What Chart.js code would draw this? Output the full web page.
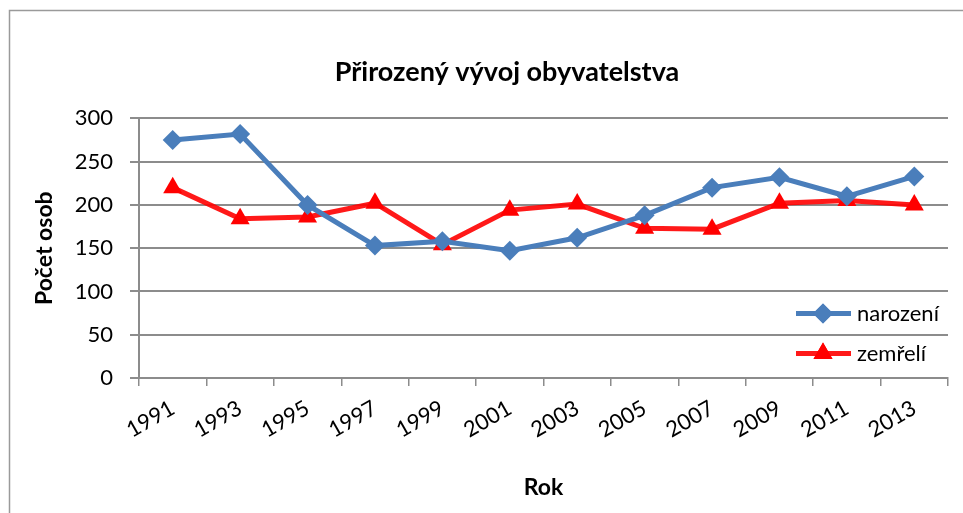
<!DOCTYPE html>
<html>
<head>
<meta charset="utf-8">
<script src="https://cdn.jsdelivr.net/npm/chart.js@4/dist/chart.umd.min.js"></script>
<style>
  html, body { margin: 0; padding: 0; background: #fff; }
  #wrap { width: 963px; height: 513px; }
</style>
</head>
<body>
<div id="wrap"><canvas id="popChart" width="963" height="513"></canvas></div>
<script>
const years = ['1991', '1993', '1995', '1997', '1999', '2001', '2003', '2005', '2007', '2009', '2011', '2013'];
const narozeni = [275, 282, 200, 153, 158, 147, 162, 188, 220, 232, 210, 233];
const zemreli = [220, 184, 186, 202, 154, 194, 201, 173, 172, 202, 205, 200];
const yTicks = [0, 50, 100, 150, 200, 250, 300];

const gridColor = '#8c8c8c';
const baseFont = 'Lato, "DejaVu Sans", sans-serif';

// outer frame of the chart object
const framePlugin = {
  id: 'frame',
  beforeDraw(chart) {
    const ctx = chart.ctx;
    ctx.save();
    ctx.fillStyle = '#fff';
    ctx.fillRect(0, 0, chart.width, chart.height);
    ctx.strokeStyle = '#9a9a9a';
    ctx.lineWidth = 1.5;
    ctx.strokeRect(9.5, 10.5, chart.width + 20, chart.height + 20);
    ctx.restore();
  }
};

// legend sits inside the plot area, lower right
const insideLegend = {
  id: 'insideLegend',
  afterDatasetsDraw(chart) {
    const ctx = chart.ctx;
    const area = chart.chartArea;
    const x0 = area.right - 152;
    ctx.save();
    chart.data.datasets.forEach((ds, i) => {
      const y = area.top + 195 + i * 40;
      ctx.strokeStyle = ds.borderColor;
      ctx.lineWidth = ds.borderWidth;
      ctx.beginPath();
      ctx.moveTo(x0, y);
      ctx.lineTo(x0 + 55, y);
      ctx.stroke();
      ctx.fillStyle = ds.backgroundColor;
      Chart.helpers.drawPoint(ctx, {
        pointStyle: ds.pointStyle,
        radius: ds.pointRadius,
        rotation: 0,
        borderWidth: 0
      }, x0 + 27, y);
      ctx.fill();
      ctx.fillStyle = '#000';
      ctx.font = '22px ' + baseFont;
      ctx.textBaseline = 'middle';
      ctx.textAlign = 'left';
      ctx.fillText(ds.label, x0 + 61, y + 1);
    });
    ctx.restore();
  }
};

new Chart(document.getElementById('popChart'), {
  type: 'line',
  data: {
    labels: years,
    datasets: [{
      label: 'narození',
      data: narozeni,
      borderColor: '#4a7ebb',
      backgroundColor: '#4a7ebb',
      borderWidth: 5,
      pointStyle: 'rectRot',
      pointRadius: 10,
      pointHoverRadius: 10,
      pointBorderWidth: 0,
      tension: 0
    }, {
      label: 'zemřelí',
      data: zemreli,
      borderColor: 'rgba(255,0,0,0.9)',
      backgroundColor: '#ff0000',
      borderWidth: 5,
      pointStyle: 'triangle',
      pointRadius: 11,
      pointHoverRadius: 11,
      pointBorderWidth: 0,
      tension: 0
    }]
  },
  options: {
    responsive: false,
    animation: false,
    layout: {
      padding: { left: 66, right: 15, top: 0, bottom: 0 }
    },
    plugins: {
      legend: { display: false },
      tooltip: { enabled: false },
      title: {
        display: true,
        text: 'Přirozený vývoj obyvatelstva',
        color: '#000',
        font: { family: baseFont, size: 27, weight: 'bold' },
        padding: { top: 56, bottom: 30 }
      }
    },
    scales: {
      x: {
        offset: true,
        grid: {
          offset: true,
          drawOnChartArea: false,
          drawTicks: true,
          tickLength: 8,
          color: gridColor,
          lineWidth: 1.5
        },
        border: { color: gridColor, width: 2 },
        ticks: {
          color: '#000',
          font: { family: baseFont, size: 22 },
          minRotation: 30,
          maxRotation: 30,
          autoSkip: false,
          padding: 9
        },
        title: {
          display: true,
          text: 'Rok',
          color: '#000',
          font: { family: baseFont, size: 23, weight: 'bold' },
          padding: { top: 12, bottom: 12 }
        },
        afterFit(scale) { scale.height = 135; }
      },
      y: {
        min: yTicks[0],
        max: yTicks[yTicks.length - 1],
        afterBuildTicks(scale) { scale.ticks = yTicks.map(v => ({ value: v })); },
        grid: {
          color: gridColor,
          lineWidth: 2,
          tickLength: 9
        },
        border: { color: gridColor, width: 2 },
        ticks: {
          color: '#000',
          font: { family: baseFont, size: 22 },
          padding: 17
        },
        title: {
          display: true,
          text: 'Počet osob',
          color: '#000',
          font: { family: baseFont, size: 23, weight: 'bold' },
          padding: { top: -35, bottom: 0 }
        },
        afterFit(scale) { scale.width = 73; }
      }
    }
  },
  plugins: [framePlugin, insideLegend]
});
</script>
</body>
</html>
